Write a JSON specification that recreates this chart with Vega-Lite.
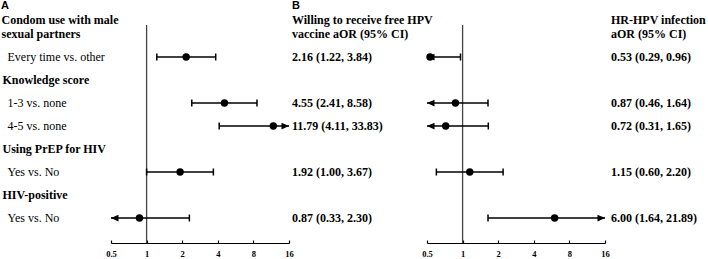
{
  "$schema": "https://vega.github.io/schema/vega-lite/v6.json",
  "padding": {"top": 0, "left": 0, "right": 0, "bottom": 0},
  "bounds": "flush",
  "spacing": 0,
  "config": {
    "view": {"stroke": null},
    "concat": {"spacing": 0}
  },
  "data": {
    "values": [
      {"key": "h1", "kind": "colhead", "label": "Condom use with male\nsexual partners", "t1": "Willing to receive free HPV\nvaccine aOR (95% CI)", "t2": "HR-HPV infection\naOR (95% CI)"},
      {"key": "r1", "kind": "item", "label": "Every time vs. other", "or1": 2.16, "lo1": 1.22, "hi1": 3.84, "t1": "2.16 (1.22, 3.84)", "or2": 0.53, "lo2": 0.29, "hi2": 0.96, "t2": "0.53 (0.29, 0.96)"},
      {"key": "h2", "kind": "header", "label": "Knowledge score"},
      {"key": "r2", "kind": "item", "label": "1-3 vs. none", "or1": 4.55, "lo1": 2.41, "hi1": 8.58, "t1": "4.55 (2.41, 8.58)", "or2": 0.87, "lo2": 0.46, "hi2": 1.64, "t2": "0.87 (0.46, 1.64)"},
      {"key": "r3", "kind": "item", "label": "4-5 vs. none", "or1": 11.79, "lo1": 4.11, "hi1": 33.83, "t1": "11.79 (4.11, 33.83)", "or2": 0.72, "lo2": 0.31, "hi2": 1.65, "t2": "0.72 (0.31, 1.65)"},
      {"key": "h3", "kind": "header", "label": "Using PrEP for HIV"},
      {"key": "r4", "kind": "item", "label": "Yes vs. No", "or1": 1.92, "lo1": 1.0, "hi1": 3.67, "t1": "1.92 (1.00, 3.67)", "or2": 1.15, "lo2": 0.6, "hi2": 2.2, "t2": "1.15 (0.60, 2.20)"},
      {"key": "h4", "kind": "header", "label": "HIV-positive"},
      {"key": "r5", "kind": "item", "label": "Yes vs. No", "or1": 0.87, "lo1": 0.33, "hi1": 2.3, "t1": "0.87 (0.33, 2.30)", "or2": 6.0, "lo2": 1.64, "hi2": 21.89, "t2": "6.00 (1.64, 21.89)"}
    ]
  },
  "hconcat": [
    {
      "width": 111, "height": 218,
      "layer": [
        {"data": {"values": [{"key": "h1", "panel": "A"}]},
         "mark": {"type": "text", "align": "left", "baseline": "middle", "font": "Liberation Sans", "fontSize": 11, "fontWeight": "bold", "color": "black", "dx": 1, "dy": -28},
         "encoding": {"x": {"value": 0}, "y": {"field": "key", "type": "ordinal", "scale": {"type": "point", "domain": ["h1","r1","h2","r2","r3","h3","r4","h4","r5"], "padding": 0.739, "align": 0.265}, "axis": null}, "text": {"field": "panel"}}},
        {"transform": [{"filter": "datum.kind == 'colhead'"}],
         "mark": {"type": "text", "align": "left", "baseline": "middle", "font": "Liberation Serif", "fontSize": 12, "fontWeight": "bold", "color": "black", "lineBreak": "\n", "lineHeight": 14, "dx": 1.5, "dy": -14},
         "encoding": {"x": {"value": 0}, "y": {"field": "key", "type": "ordinal", "scale": {"type": "point", "domain": ["h1","r1","h2","r2","r3","h3","r4","h4","r5"], "padding": 0.739, "align": 0.265}, "axis": null}, "text": {"field": "label"}}},
        {"transform": [{"filter": "datum.kind == 'header'"}],
         "mark": {"type": "text", "align": "left", "baseline": "middle", "font": "Liberation Serif", "fontSize": 12, "fontWeight": "bold", "color": "black", "dx": 2.5},
         "encoding": {"x": {"value": 0}, "y": {"field": "key", "type": "ordinal", "scale": {"type": "point", "domain": ["h1","r1","h2","r2","r3","h3","r4","h4","r5"], "padding": 0.739, "align": 0.265}, "axis": null}, "text": {"field": "label"}}},
        {"transform": [{"filter": "datum.kind == 'item'"}],
         "mark": {"type": "text", "align": "left", "baseline": "middle", "font": "Liberation Serif", "fontSize": 12, "fontWeight": "normal", "color": "black", "dx": 7.5},
         "encoding": {"x": {"value": 0}, "y": {"field": "key", "type": "ordinal", "scale": {"type": "point", "domain": ["h1","r1","h2","r2","r3","h3","r4","h4","r5"], "padding": 0.739, "align": 0.265}, "axis": null}, "text": {"field": "label"}}}
      ]
    },
    {
      "width": 178, "height": 218,
      "layer": [
        {"data": {"values": [{"ref": 1}]},
         "mark": {"type": "rule", "color": "#444", "strokeWidth": 1.3},
         "encoding": {"x": {"field": "ref", "type": "quantitative", "scale": {"type": "log", "base": 2, "domain": [0.5, 16], "clamp": true, "nice": false}, "axis": {"title": null, "values": [0.5, 1, 2, 4, 8, 16], "format": "~g", "grid": false, "domainColor": "black", "domainWidth": 1.2, "tickColor": "black", "tickWidth": 1.2, "tickSize": -3, "labelPadding": 9, "labelFont": "Liberation Serif", "labelFontSize": 8.5, "labelFontWeight": "bold", "labelColor": "black", "labelFlush": false}}}},
        {"transform": [{"filter": "isValid(datum.or1)"}],
         "mark": {"type": "rule", "color": "black", "strokeWidth": 1.6},
         "encoding": {"x": {"field": "lo1", "type": "quantitative", "scale": {"type": "log", "base": 2, "domain": [0.5, 16], "clamp": true, "nice": false}}, "x2": {"field": "hi1"}, "y": {"field": "key", "type": "ordinal", "scale": {"type": "point", "domain": ["h1","r1","h2","r2","r3","h3","r4","h4","r5"], "padding": 0.739, "align": 0.265}, "axis": null}}},
        {"transform": [{"filter": "isValid(datum.or1) && datum.lo1 >= 0.5"}],
         "mark": {"type": "tick", "color": "black", "size": 7, "thickness": 1.5, "opacity": 1},
         "encoding": {"x": {"field": "lo1", "type": "quantitative", "scale": {"type": "log", "base": 2, "domain": [0.5, 16], "clamp": true, "nice": false}}, "y": {"field": "key", "type": "ordinal", "scale": {"type": "point", "domain": ["h1","r1","h2","r2","r3","h3","r4","h4","r5"], "padding": 0.739, "align": 0.265}, "axis": null}}},
        {"transform": [{"filter": "isValid(datum.or1) && datum.hi1 <= 16"}],
         "mark": {"type": "tick", "color": "black", "size": 7, "thickness": 1.5, "opacity": 1},
         "encoding": {"x": {"field": "hi1", "type": "quantitative", "scale": {"type": "log", "base": 2, "domain": [0.5, 16], "clamp": true, "nice": false}}, "y": {"field": "key", "type": "ordinal", "scale": {"type": "point", "domain": ["h1","r1","h2","r2","r3","h3","r4","h4","r5"], "padding": 0.739, "align": 0.265}, "axis": null}}},
        {"transform": [{"filter": "isValid(datum.or1) && datum.lo1 < 0.5"}],
         "mark": {"type": "point", "filled": true, "shape": "M0,0L1,-0.45L1,0.45Z", "size": 225, "color": "black", "opacity": 1},
         "encoding": {"x": {"field": "lo1", "type": "quantitative", "scale": {"type": "log", "base": 2, "domain": [0.5, 16], "clamp": true, "nice": false}}, "y": {"field": "key", "type": "ordinal", "scale": {"type": "point", "domain": ["h1","r1","h2","r2","r3","h3","r4","h4","r5"], "padding": 0.739, "align": 0.265}, "axis": null}}},
        {"transform": [{"filter": "isValid(datum.or1) && datum.hi1 > 16"}],
         "mark": {"type": "point", "filled": true, "shape": "M0,0L-1,-0.45L-1,0.45Z", "size": 225, "color": "black", "opacity": 1},
         "encoding": {"x": {"field": "hi1", "type": "quantitative", "scale": {"type": "log", "base": 2, "domain": [0.5, 16], "clamp": true, "nice": false}}, "y": {"field": "key", "type": "ordinal", "scale": {"type": "point", "domain": ["h1","r1","h2","r2","r3","h3","r4","h4","r5"], "padding": 0.739, "align": 0.265}, "axis": null}}},
        {"transform": [{"filter": "isValid(datum.or1)"}],
         "mark": {"type": "point", "filled": true, "size": 55, "color": "black", "opacity": 1},
         "encoding": {"x": {"field": "or1", "type": "quantitative", "scale": {"type": "log", "base": 2, "domain": [0.5, 16], "clamp": true, "nice": false}}, "y": {"field": "key", "type": "ordinal", "scale": {"type": "point", "domain": ["h1","r1","h2","r2","r3","h3","r4","h4","r5"], "padding": 0.739, "align": 0.265}, "axis": null}}}
      ]
    },
    {
      "width": 138, "height": 218,
      "layer": [
        {"data": {"values": [{"key": "h1", "panel": "B"}]},
         "mark": {"type": "text", "align": "left", "baseline": "middle", "font": "Liberation Sans", "fontSize": 11, "fontWeight": "bold", "color": "black", "dx": 3, "dy": -28},
         "encoding": {"x": {"value": 0}, "y": {"field": "key", "type": "ordinal", "scale": {"type": "point", "domain": ["h1","r1","h2","r2","r3","h3","r4","h4","r5"], "padding": 0.739, "align": 0.265}, "axis": null}, "text": {"field": "panel"}}},
        {"transform": [{"filter": "datum.kind == 'colhead'"}],
         "mark": {"type": "text", "align": "left", "baseline": "middle", "font": "Liberation Serif", "fontSize": 12, "fontWeight": "bold", "color": "black", "lineBreak": "\n", "lineHeight": 14, "dx": 3, "dy": -14},
         "encoding": {"x": {"value": 0}, "y": {"field": "key", "type": "ordinal", "scale": {"type": "point", "domain": ["h1","r1","h2","r2","r3","h3","r4","h4","r5"], "padding": 0.739, "align": 0.265}, "axis": null}, "text": {"field": "t1"}}},
        {"transform": [{"filter": "datum.kind == 'item'"}],
         "mark": {"type": "text", "align": "left", "baseline": "middle", "font": "Liberation Serif", "fontSize": 12, "fontWeight": "bold", "color": "black", "dx": 3},
         "encoding": {"x": {"value": 0}, "y": {"field": "key", "type": "ordinal", "scale": {"type": "point", "domain": ["h1","r1","h2","r2","r3","h3","r4","h4","r5"], "padding": 0.739, "align": 0.265}, "axis": null}, "text": {"field": "t1"}}}
      ]
    },
    {
      "width": 178, "height": 218,
      "layer": [
        {"data": {"values": [{"ref": 1}]},
         "mark": {"type": "rule", "color": "#444", "strokeWidth": 1.3},
         "encoding": {"x": {"field": "ref", "type": "quantitative", "scale": {"type": "log", "base": 2, "domain": [0.5, 16], "clamp": true, "nice": false}, "axis": {"title": null, "values": [0.5, 1, 2, 4, 8, 16], "format": "~g", "grid": false, "domainColor": "black", "domainWidth": 1.2, "tickColor": "black", "tickWidth": 1.2, "tickSize": -3, "labelPadding": 9, "labelFont": "Liberation Serif", "labelFontSize": 8.5, "labelFontWeight": "bold", "labelColor": "black", "labelFlush": false}}}},
        {"transform": [{"filter": "isValid(datum.or2)"}],
         "mark": {"type": "rule", "color": "black", "strokeWidth": 1.6},
         "encoding": {"x": {"field": "lo2", "type": "quantitative", "scale": {"type": "log", "base": 2, "domain": [0.5, 16], "clamp": true, "nice": false}}, "x2": {"field": "hi2"}, "y": {"field": "key", "type": "ordinal", "scale": {"type": "point", "domain": ["h1","r1","h2","r2","r3","h3","r4","h4","r5"], "padding": 0.739, "align": 0.265}, "axis": null}}},
        {"transform": [{"filter": "isValid(datum.or2) && datum.lo2 >= 0.5"}],
         "mark": {"type": "tick", "color": "black", "size": 7, "thickness": 1.5, "opacity": 1},
         "encoding": {"x": {"field": "lo2", "type": "quantitative", "scale": {"type": "log", "base": 2, "domain": [0.5, 16], "clamp": true, "nice": false}}, "y": {"field": "key", "type": "ordinal", "scale": {"type": "point", "domain": ["h1","r1","h2","r2","r3","h3","r4","h4","r5"], "padding": 0.739, "align": 0.265}, "axis": null}}},
        {"transform": [{"filter": "isValid(datum.or2) && datum.hi2 <= 16"}],
         "mark": {"type": "tick", "color": "black", "size": 7, "thickness": 1.5, "opacity": 1},
         "encoding": {"x": {"field": "hi2", "type": "quantitative", "scale": {"type": "log", "base": 2, "domain": [0.5, 16], "clamp": true, "nice": false}}, "y": {"field": "key", "type": "ordinal", "scale": {"type": "point", "domain": ["h1","r1","h2","r2","r3","h3","r4","h4","r5"], "padding": 0.739, "align": 0.265}, "axis": null}}},
        {"transform": [{"filter": "isValid(datum.or2) && datum.lo2 < 0.5"}],
         "mark": {"type": "point", "filled": true, "shape": "M0,0L1,-0.45L1,0.45Z", "size": 225, "color": "black", "opacity": 1},
         "encoding": {"x": {"field": "lo2", "type": "quantitative", "scale": {"type": "log", "base": 2, "domain": [0.5, 16], "clamp": true, "nice": false}}, "y": {"field": "key", "type": "ordinal", "scale": {"type": "point", "domain": ["h1","r1","h2","r2","r3","h3","r4","h4","r5"], "padding": 0.739, "align": 0.265}, "axis": null}}},
        {"transform": [{"filter": "isValid(datum.or2) && datum.hi2 > 16"}],
         "mark": {"type": "point", "filled": true, "shape": "M0,0L-1,-0.45L-1,0.45Z", "size": 225, "color": "black", "opacity": 1},
         "encoding": {"x": {"field": "hi2", "type": "quantitative", "scale": {"type": "log", "base": 2, "domain": [0.5, 16], "clamp": true, "nice": false}}, "y": {"field": "key", "type": "ordinal", "scale": {"type": "point", "domain": ["h1","r1","h2","r2","r3","h3","r4","h4","r5"], "padding": 0.739, "align": 0.265}, "axis": null}}},
        {"transform": [{"filter": "isValid(datum.or2)"}],
         "mark": {"type": "point", "filled": true, "size": 55, "color": "black", "opacity": 1},
         "encoding": {"x": {"field": "or2", "type": "quantitative", "scale": {"type": "log", "base": 2, "domain": [0.5, 16], "clamp": true, "nice": false}}, "y": {"field": "key", "type": "ordinal", "scale": {"type": "point", "domain": ["h1","r1","h2","r2","r3","h3","r4","h4","r5"], "padding": 0.739, "align": 0.265}, "axis": null}}}
      ]
    },
    {
      "width": 103, "height": 218,
      "layer": [
        {"transform": [{"filter": "datum.kind == 'colhead'"}],
         "mark": {"type": "text", "align": "left", "baseline": "middle", "font": "Liberation Serif", "fontSize": 12, "fontWeight": "bold", "color": "black", "lineBreak": "\n", "lineHeight": 14, "dx": 6, "dy": -14},
         "encoding": {"x": {"value": 0}, "y": {"field": "key", "type": "ordinal", "scale": {"type": "point", "domain": ["h1","r1","h2","r2","r3","h3","r4","h4","r5"], "padding": 0.739, "align": 0.265}, "axis": null}, "text": {"field": "t2"}}},
        {"transform": [{"filter": "datum.kind == 'item'"}],
         "mark": {"type": "text", "align": "left", "baseline": "middle", "font": "Liberation Serif", "fontSize": 12, "fontWeight": "bold", "color": "black", "dx": 6},
         "encoding": {"x": {"value": 0}, "y": {"field": "key", "type": "ordinal", "scale": {"type": "point", "domain": ["h1","r1","h2","r2","r3","h3","r4","h4","r5"], "padding": 0.739, "align": 0.265}, "axis": null}, "text": {"field": "t2"}}}
      ]
    }
  ]
}
